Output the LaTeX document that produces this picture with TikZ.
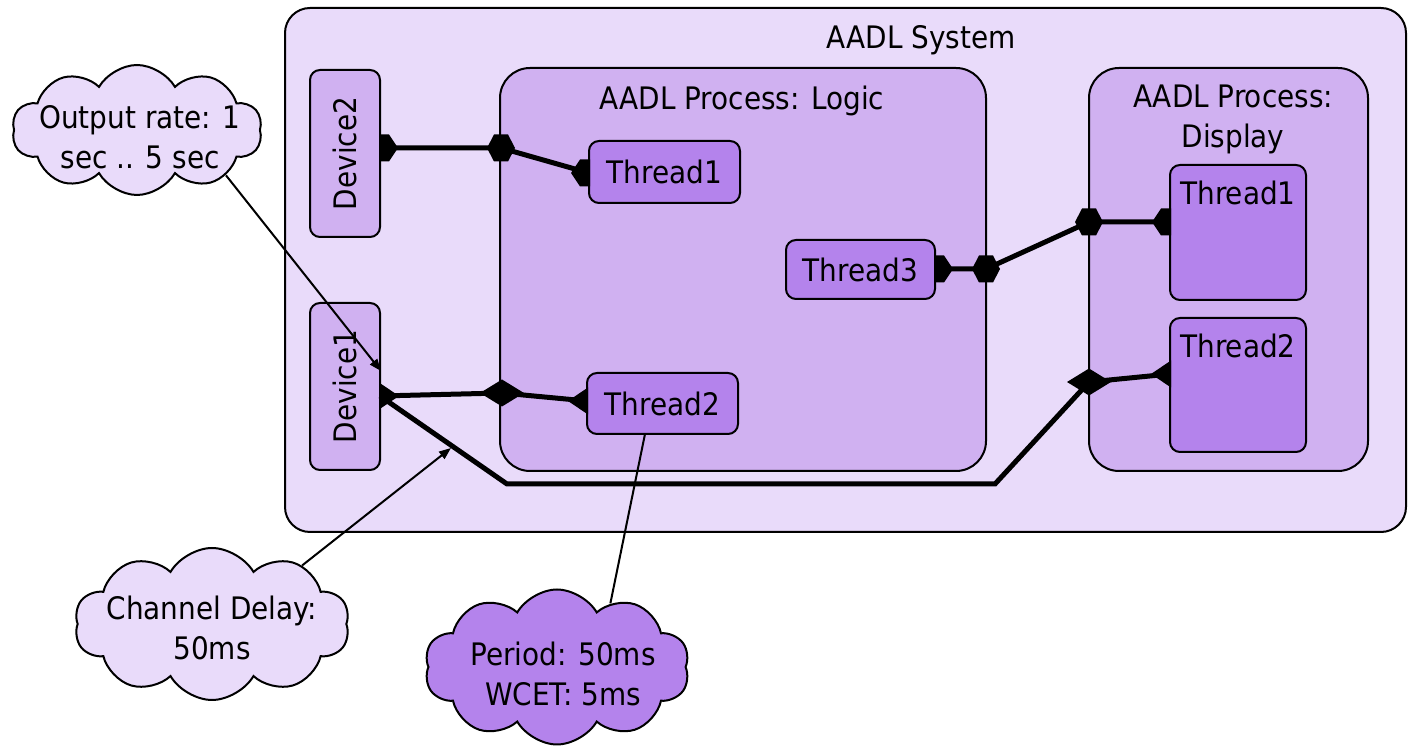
\documentclass[tikz,border=0pt]{standalone}
\usepackage{fontspec}
\setmainfont{DejaVu Sans Condensed}
\usetikzlibrary{shapes.symbols,arrows.meta,calc}

\definecolor{sysfill}{HTML}{E9DBFA}
\definecolor{procfill}{HTML}{D0B1F1}
\definecolor{thrfill}{HTML}{B483EC}

\tikzset{
  lbl/.style={font=\fontsize{15.5}{20}\selectfont, text=black, inner sep=0pt, align=center},
  sysbox/.style={draw=black, line width=1pt, fill=sysfill, rounded corners=12.5pt},
  procbox/.style={draw=black, line width=1pt, fill=procfill, rounded corners=15pt},
  devbox/.style={draw=black, line width=1pt, fill=procfill, rounded corners=5pt, lbl},
  thrbox/.style={draw=black, line width=1pt, fill=thrfill, rounded corners=5pt, lbl},
  note/.style={cloud, cloud puffs=10, cloud puff arc=120, cloud ignores aspect,
    draw=black, line width=1pt, inner sep=0pt},
  conn/.style={line width=2.5pt, draw=black, line join=miter},
  callout/.style={line width=1pt, draw=black},
  tip/.style={-{Triangle[length=6pt,width=4.5pt]}},
  hexport/.pic={\fill[black] (-14,0)--(-7,-13.5)--(7,-13.5)--(14,0)--(7,13.5)--(-7,13.5)--cycle;},
  halfhex/.pic={\fill[black] (-1,-13.5)--(9,-13.5)--(18,0)--(9,13.5)--(-1,13.5)--cycle;},
  diaport/.pic={\fill[black] (-22,0)--(0,-13.5)--(22,0)--(0,13.5)--cycle;},
  halfdia/.pic={\fill[black] (-1,-13.5)--(19,0)--(-1,13.5)--cycle;}
}

\begin{document}
\begin{tikzpicture}[x=0.5pt,y=-0.5pt]
\useasboundingbox (0,0) rectangle (1408,747);

% system and its processes
\node[sysbox, minimum width=560.5pt, minimum height=262pt] (sys) at (845.5,270) {};
\node[lbl] (systitle) at (921,40) {AADL System};

\node[procbox, minimum width=243pt, minimum height=201.5pt] (logic) at (743,269.5) {};
\node[lbl] (logictitle) at (742,101) {AADL Process: Logic};

\node[procbox, minimum width=139.5pt, minimum height=201.5pt] (display) at (1228.5,269.5) {};
\node[lbl] (displaytitle) at (1233,119) {AADL Process:\\Display};

% devices
\node[devbox, rotate=90, minimum width=83.5pt, minimum height=35pt] (dev2) at (345,153.5) {Device2};
\node[devbox, rotate=90, minimum width=83.5pt, minimum height=35pt] (dev1) at (345,386.5) {Device1};

% threads
\node[thrbox, minimum width=75.5pt, minimum height=31pt] (lt1) at (664.5,172) {Thread1};
\node[thrbox, minimum width=74.5pt, minimum height=29.5pt] (lt3) at (860.5,269.5) {Thread3};
\node[thrbox, minimum width=75.5pt, minimum height=30.5pt] (lt2) at (662.5,403.5) {Thread2};
\node[thrbox, minimum width=68pt, minimum height=67.5pt] (dt1) at (1238,232.5) {};
\node[lbl] (dt1txt) at (1238,193) {Thread1};
\node[thrbox, minimum width=68pt, minimum height=67pt] (dt2) at (1238,385) {};
\node[lbl] (dt2txt) at (1238,346) {Thread2};

% port locations
\coordinate (pD2) at (380,148);
\coordinate (pL1) at (501,148);
\coordinate (pT1) at (589,173);
\coordinate (pT3) at (935,269);
\coordinate (pL3) at (986,269);
\coordinate (pS1) at (1089,222);
\coordinate (pDT1) at (1170,222);
\coordinate (pD1) at (380,396);
\coordinate (pL2) at (502,393);
\coordinate (pT2) at (587,401);
\coordinate (bendA) at (507,484);
\coordinate (bendB) at (995,484);
\coordinate (pS2) at (1089,382);
\coordinate (pDT2) at (1170,374);

% connections
\draw[conn] (pD2) -- (pL1) -- (pT1);
\draw[conn] (pT3) -- (pL3) -- (pS1) -- (pDT1);
\draw[conn] (pD1) -- (pL2) -- (pT2);
\draw[conn] (pD1) -- (bendA) -- (bendB) -- (pS2) -- (pDT2);

% ports
\pic at (pD2) {halfhex};
\pic at (pL1) {hexport};
\pic[xscale=-1] at (pT1) {halfhex};
\pic at (pT3) {halfhex};
\pic at (pL3) {hexport};
\pic at (pS1) {hexport};
\pic[xscale=-1] at (pDT1) {halfhex};
\pic at (pD1) {halfdia};
\pic at (pL2) {diaport};
\pic[xscale=-1] at (pT2) {halfdia};
\pic at (pS2) {diaport};
\pic[xscale=-1] at (pDT2) {halfdia};

% annotation clouds
\node[note, fill=sysfill, minimum width=125pt, minimum height=65pt] (rate) at (137,130) {};
\node[lbl] (ratetxt) at (140,137) {Output rate: 1\\sec .. 5 sec};
\node[note, fill=sysfill, minimum width=137.5pt, minimum height=76pt] (delay) at (212,624) {};
\node[lbl] (delaytxt) at (212,628) {Channel Delay:\\50ms};
\node[note, fill=thrfill, minimum width=132.5pt, minimum height=77.5pt] (period) at (557,667) {};
\node[lbl] (periodtxt) at (563,674) {Period: 50ms\\WCET: 5ms};

\coordinate (rateTip) at (381,371);
\coordinate (delayTip) at (451,448);
\coordinate (periodEnd) at (645,434);

\draw[callout, tip] (rate.-27) -- (rateTip);
\draw[callout, tip] (delay.33) -- (delayTip);
\draw[callout] (periodEnd) -- (period.50);
\end{tikzpicture}
\end{document}
